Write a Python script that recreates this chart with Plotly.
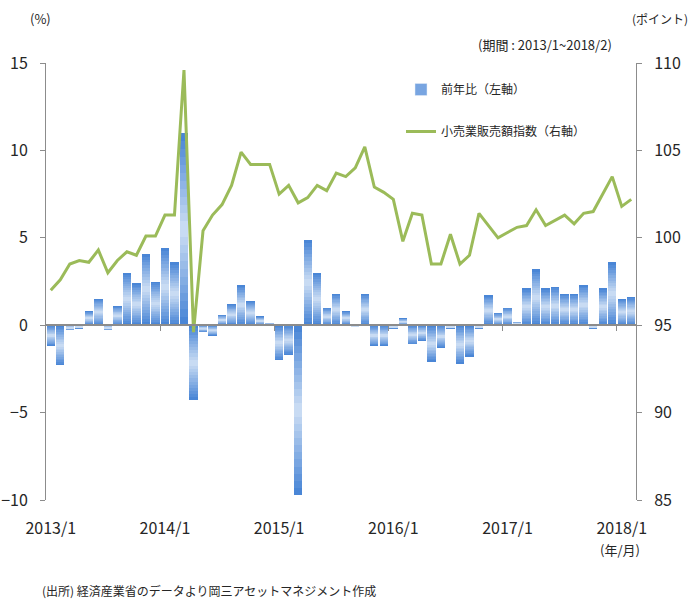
import plotly.graph_objects as go

months = [f"{y}/{m}" for y in range(2013, 2019) for m in range(1, 13)][:62]

yoy = [-1.2, -2.3, -0.3, -0.2, 0.8, 1.5, -0.3, 1.1, 3.0, 2.4, 4.1, 2.5,
       4.4, 3.6, 11.0, -4.3, -0.4, -0.6, 0.6, 1.2, 2.3, 1.4, 0.5, 0.1,
       -2.0, -1.7, -9.7, 4.9, 3.0, 1.0, 1.8, 0.8, -0.1, 1.8, -1.2, -1.2,
       -0.2, 0.4, -1.1, -0.9, -2.1, -1.3, -0.2, -2.2, -1.8, -0.2, 1.7, 0.7,
       1.0, 0.2, 2.1, 3.2, 2.1, 2.2, 1.8, 1.8, 2.3, -0.2, 2.1, 3.6, 1.5, 1.6]

index = [97.0, 97.6, 98.5, 98.7, 98.6, 99.3, 98.0, 98.7, 99.2, 99.0, 100.1, 100.1,
         101.3, 101.3, 109.6, 94.6, 100.4, 101.3, 101.9, 103.0, 104.9, 104.2, 104.2, 104.2,
         102.5, 103.0, 102.0, 102.3, 103.0, 102.7, 103.7, 103.5, 104.0, 105.2, 102.9, 102.6,
         102.2, 99.8, 101.4, 101.3, 98.5, 98.5, 100.2, 98.5, 99.0, 101.4, 100.7, 100.0,
         100.3, 100.6, 100.7, 101.6, 100.7, 101.0, 101.3, 100.8, 101.4, 101.5, 102.5, 103.5,
         101.8, 102.2]

year_labels = ["2013/1", "2014/1", "2015/1", "2016/1", "2017/1", "2018/1"]
year_pos = [months.index(l) for l in year_labels]
boundaries = [p - 0.5 for p in year_pos[1:]]

x = list(range(len(months)))

FONT = "Liberation Sans Narrow, Noto Sans CJK JP, sans-serif"
JFONT = "Noto Sans CJK JP, sans-serif"
TXT = "#262626"
AX = "#8c8c8c"

dark = (74, 134, 214)
light = (200, 219, 243)
M = 12

fig = go.Figure()
for k in range(M):
    f = k / (2 * M)
    t = k / (M - 1)
    c = tuple(round(dark[i] + (light[i] - dark[i]) * t) for i in range(3))
    fig.add_trace(go.Bar(
        x=x, y=[v * (1 - 2 * f) for v in yoy], base=[v * f for v in yoy],
        width=0.88, marker=dict(color=f"rgb{c}", line=dict(width=0)),
        name="前年比（左軸）", showlegend=False, hoverinfo="skip",
        legendgroup="a"))

# legend proxy for bars
fig.add_trace(go.Bar(x=[None], y=[None], name="前年比（左軸）",
                     marker=dict(color="rgb(120,165,225)"), legendgroup="a",
                     showlegend=True))

fig.add_trace(go.Scatter(x=x, y=index, yaxis="y2", mode="lines",
                         line=dict(color="#9BBB59", width=3),
                         name="小売業販売額指数（右軸）", legendgroup="b"))

# zero-line axis with year-boundary ticks
fig.add_trace(go.Scatter(x=[None], y=[None], xaxis="x2", showlegend=False))

L, R, T, B = 46, 58, 63, 99
W, H = 694, 599
pw, ph = W - L - R, H - T - B

def px(xp):
    return (xp - L) / pw

def py(yp):
    return (H - B - yp) / ph

fig.update_layout(
    width=W, height=H,
    margin=dict(l=L, r=R, t=T, b=B, pad=0, autoexpand=False),
    paper_bgcolor="white", plot_bgcolor="white",
    barmode="overlay", bargap=0,
    font=dict(family=FONT, size=16, color=TXT),
    showlegend=True,
    legend=dict(x=px(401), y=py(75), xanchor="left", yanchor="top",
                font=dict(family=JFONT, size=12, color=TXT),
                bgcolor="rgba(0,0,0,0)", tracegroupgap=23,
                traceorder="grouped", itemwidth=30),
    xaxis=dict(range=[-0.5, len(months) - 0.5], tickmode="array",
               tickvals=year_pos, ticktext=year_labels, showgrid=False,
               zeroline=False, showline=False, ticks="outside", ticklen=14,
               tickcolor="rgba(0,0,0,0)", tickfont=dict(size=16),
               automargin=False),
    xaxis2=dict(range=[-0.5, len(months) - 0.5], overlaying="x",
                anchor="free", position=0.4, side="bottom",
                tickmode="array", tickvals=boundaries, showticklabels=False,
                ticks="outside", ticklen=5, tickcolor=AX, tickwidth=1,
                showline=True, linecolor=AX, linewidth=2, showgrid=False,
                zeroline=False, automargin=False),
    yaxis=dict(range=[-10, 15], dtick=5, tick0=0, showgrid=False,
               zeroline=False, showline=True, linecolor=AX, linewidth=1,
               ticks="outside", ticklen=5, tickcolor=AX,
               ticklabelstandoff=9, tickfont=dict(size=16), automargin=False),
    yaxis2=dict(range=[85, 110], dtick=5, tick0=85, overlaying="y",
                side="right", showgrid=False, zeroline=False, showline=True,
                linecolor=AX, linewidth=1, ticks="outside", ticklen=5,
                tickcolor=AX, ticklabelstandoff=9, tickfont=dict(size=16),
                automargin=False),
)

ann = [
    ("(%)", 40, 18, "center", 13),
    ("(ポイント)", 660, 18, "center", 12),
    ("(期間 : 2013/1~2018/2)", 545, 45, "center", 13),
    ("(年/月)", 620, 549, "center", 13),
    ("(出所) 経済産業省のデータより岡三アセットマネジメント作成", 40, 590, "left", 12),
]
for text, ax_, ay_, xa, fs in ann:
    fig.add_annotation(text=text, x=px(ax_), y=py(ay_), xref="paper",
                       yref="paper", xanchor=xa, yanchor="middle",
                       showarrow=False, font=dict(family=JFONT, size=fs, color=TXT))

fig.write_html("out.html", config={"displayModeBar": False},
               post_script="document.body.style.margin='0';document.body.style.overflow='hidden';")
